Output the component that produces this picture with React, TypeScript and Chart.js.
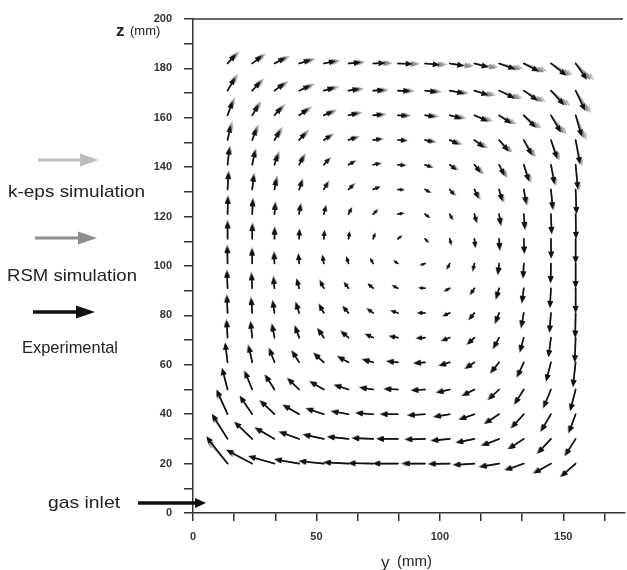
import React, { useEffect, useRef } from "react";
import { Chart, registerables } from "chart.js";
Chart.register(...registerables);

// grid positions (mm)
const X_COLS = [14, 24, 33, 43, 53, 63, 73, 83, 94, 104, 114, 124, 134, 145, 155];
const Z_ROWS = [182, 171, 161, 151, 141, 131, 121, 111, 101, 91, 81, 71, 61, 50, 40, 30, 20];

const X_TICKS = [0, 16.667, 33.333, 50, 66.667, 83.333, 100, 116.667, 133.333, 150, 166.667];
const X_LABELS = [0, 50, 100, 150];
const Y_LABEL_STEP = 20;

// Experimental vectors: direction (deg) and length (mm)
const EXP_ANG = [
  [48, 38, 28, 18, 12, 6, 2, -2, -6, -10, -15, -20, -28, -38, -55],
  [60, 48, 36, 25, 16, 9, 3, -2, -6, -11, -18, -26, -36, -48, -65],
  [70, 60, 48, 36, 24, 14, 6, -2, -8, -15, -24, -34, -46, -60, -74],
  [78, 70, 60, 48, 34, 20, 8, -4, -14, -25, -38, -50, -62, -72, -80],
  [84, 79, 72, 62, 48, 30, 12, -6, -22, -38, -52, -64, -73, -80, -85],
  [87, 84, 80, 72, 60, 44, 22, -5, -32, -52, -66, -75, -81, -85, -88],
  [89, 88, 86, 82, 76, 64, 45, 10, -40, -64, -76, -82, -86, -88, -89],
  [90, 90, 89, 88, 86, 82, 72, 40, -50, -76, -84, -87, -88, -89, -90],
  [91, 91, 92, 95, 100, 108, 120, 145, 200, 245, 258, 264, 267, 269, 270],
  [92, 93, 96, 106, 118, 128, 140, 155, 178, 210, 238, 254, 263, 267, 270],
  [92, 94, 98, 108, 120, 132, 146, 162, 180, 205, 232, 250, 260, 266, 269],
  [93, 96, 100, 110, 124, 140, 156, 170, 184, 202, 224, 242, 255, 263, 268],
  [97, 102, 110, 122, 138, 152, 165, 175, 185, 198, 215, 232, 246, 256, 264],
  [104, 112, 122, 136, 150, 162, 172, 178, 184, 194, 208, 224, 238, 248, 256],
  [114, 124, 136, 150, 162, 170, 176, 180, 184, 190, 200, 214, 228, 240, 250],
  [122, 136, 150, 160, 168, 174, 178, 180, 182, 186, 192, 202, 214, 228, 238],
  [128, 152, 164, 170, 174, 177, 179, 180, 180, 181, 184, 190, 200, 210, 222],
];
const EXP_LEN = [
  [5, 5, 5, 5, 5, 5, 5, 6, 6, 6, 6, 7, 7, 8, 8],
  [6, 5, 5, 5, 4.5, 4.5, 4.5, 5, 5, 6, 6, 7, 7, 8, 9],
  [6, 5, 4.5, 4.5, 4, 4, 4, 4, 4, 5, 6, 6, 7, 8, 9],
  [6, 5, 4.5, 4, 3.5, 3.5, 3.5, 3.5, 3.5, 4, 5, 6, 7, 8, 10],
  [7, 6, 4.5, 4, 3.5, 3, 3, 3, 3, 3.5, 4, 5, 7, 8, 10],
  [7, 6, 4.5, 4, 3.5, 3, 3, 2.5, 2.5, 3, 4, 5, 6, 8, 10],
  [7, 6, 4.5, 4, 3.5, 3, 2.5, 2.5, 2.5, 2.5, 3.5, 4.5, 6, 8, 10],
  [7, 6, 4.5, 4, 3.5, 3, 2.5, 2, 2, 2.5, 3.5, 4.5, 6, 8, 10],
  [7, 6, 4.5, 4, 3.5, 3, 2.5, 2, 2, 2.5, 3, 4.5, 6, 8, 10],
  [7, 6, 4.5, 4, 3.5, 3, 3, 2.5, 2.5, 2.5, 3, 4.5, 6, 8, 10],
  [7, 6, 5, 4.5, 4, 3.5, 3, 3, 3, 3, 3.5, 4.5, 6, 8, 10],
  [7, 6.5, 5.5, 5, 4.5, 4, 3.5, 3.5, 3.5, 3.5, 4, 5, 6, 8, 10],
  [8, 7, 6, 5.5, 5.5, 5, 4.5, 4.5, 4.5, 4.5, 4.5, 5.5, 6.5, 8, 10],
  [9, 8, 7, 6.5, 6.5, 6, 5.5, 5.5, 5.5, 5.5, 5.5, 6, 7, 8, 9],
  [11, 9, 8, 7.5, 7.5, 7, 7, 7, 7, 6.5, 6.5, 7, 7.5, 8, 8],
  [12, 10, 9, 8.5, 8.5, 8.5, 8.5, 8.5, 8, 7.5, 7.5, 7.5, 7.5, 8, 8],
  [14, 12, 11, 10, 10, 10, 10, 10, 9, 8.5, 8.5, 8, 8, 8, 8],
];

// k-eps simulation vectors
const KEPS_ANG = [
  [45, 36, 26, 16, 10, 5, 1, -1, -3, -6, -9, -12, -18, -28, -42],
  [58, 46, 34, 23, 14, 7, 2, -1, -4, -8, -12, -18, -26, -38, -55],
  [68, 58, 46, 34, 22, 12, 4, -1, -5, -10, -17, -26, -36, -50, -66],
  [76, 68, 58, 46, 32, 18, 6, -2, -10, -18, -30, -42, -54, -66, -76],
  [82, 77, 70, 60, 46, 28, 10, -4, -16, -30, -44, -56, -67, -76, -83],
  [86, 83, 78, 70, 58, 42, 20, -3, -26, -44, -58, -69, -77, -83, -87],
  [88, 87, 85, 80, 74, 62, 42, 8, -34, -58, -71, -79, -84, -87, -89],
  [90, 89, 88, 87, 85, 80, 70, 36, -46, -72, -82, -86, -88, -89, -90],
  [91, 91, 92, 94, 98, 106, 118, 140, 196, 240, 256, 263, 267, 269, 270],
  [92, 93, 95, 104, 115, 125, 137, 152, 175, 206, 234, 252, 262, 267, 270],
  [93, 95, 99, 108, 118, 130, 144, 160, 178, 202, 228, 248, 259, 265, 269],
  [94, 97, 102, 111, 124, 138, 154, 168, 182, 200, 221, 240, 253, 262, 268],
  [98, 104, 112, 123, 137, 150, 163, 173, 183, 196, 212, 229, 244, 255, 263],
  [106, 114, 124, 137, 150, 161, 170, 177, 182, 191, 205, 221, 236, 247, 255],
  [116, 126, 138, 151, 162, 170, 175, 179, 182, 188, 197, 211, 226, 238, 248],
  [124, 138, 151, 161, 168, 174, 177, 179, 181, 184, 190, 199, 211, 225, 236],
  [132, 154, 165, 171, 175, 177, 179, 180, 180, 181, 183, 188, 197, 207, 220],
];
const KEPS_LEN = [
  [7, 7, 7, 7, 7, 7, 8, 9, 9, 10, 10, 10, 10, 10, 10],
  [8, 7, 7, 7, 6.5, 6.5, 6.5, 7, 7, 8, 9, 10, 10, 10, 11],
  [8, 7, 6.5, 6.5, 6, 6, 5.5, 5.5, 6, 7, 8, 8, 9, 10, 11],
  [8, 7, 6.5, 6, 5, 5, 4.5, 4.5, 5, 5.5, 6.5, 7.5, 8.5, 9, 11],
  [8, 7, 6, 5.5, 4.5, 4, 4, 4, 4, 4.5, 5.5, 6.5, 8, 9, 11],
  [8, 7, 6, 5, 4.5, 4, 3.5, 3, 3, 4, 5, 6, 7, 9, 10],
  [8, 7, 5.5, 5, 4, 3.5, 3, 3, 3, 3, 4, 5, 7, 8.5, 10],
  [8, 7, 5.5, 4.5, 4, 3.5, 3, 2.5, 2.5, 3, 4, 5, 6.5, 8, 10],
  [8, 7, 5.5, 4.5, 4, 3.5, 3, 2.5, 2.5, 3, 3.5, 5, 6.5, 8, 10],
  [8, 7, 5.5, 4.5, 4, 3.5, 3, 3, 3, 3, 3.5, 5, 6.5, 8, 10],
  [8, 7, 5.5, 5, 4.5, 4, 3.5, 3.5, 3.5, 3.5, 4, 5, 6.5, 8, 10],
  [8, 7, 6, 5.5, 5, 4.5, 4, 4, 4, 4, 4.5, 5.5, 6.5, 8, 10],
  [8, 7.5, 6.5, 6, 6, 5.5, 5, 5, 5, 5, 5, 6, 7, 8, 10],
  [9, 8.5, 7.5, 7, 7, 6.5, 6, 6, 6, 6, 6, 6.5, 7.5, 8.5, 9],
  [10, 9, 8.5, 8, 8, 7.5, 7.5, 7.5, 7.5, 7, 7, 7.5, 8, 8.5, 8.5],
  [11, 10, 9.5, 9, 9, 9, 9, 9, 8.5, 8, 8, 8, 8, 8.5, 8.5],
  [12, 11, 11, 10.5, 10.5, 10.5, 10.5, 10.5, 10, 9, 9, 8.5, 8.5, 8.5, 8.5],
];

// RSM simulation vectors
const RSM_ANG = [
  [47, 37, 27, 17, 11, 5, 1, -2, -5, -8, -12, -16, -23, -33, -48],
  [59, 47, 35, 24, 15, 8, 2, -2, -5, -9, -15, -22, -31, -43, -60],
  [69, 59, 47, 35, 23, 13, 5, -2, -6, -12, -20, -30, -41, -55, -70],
  [77, 69, 59, 47, 33, 19, 7, -3, -12, -22, -34, -46, -58, -69, -78],
  [83, 78, 71, 61, 47, 29, 11, -5, -19, -34, -48, -60, -70, -78, -84],
  [86, 84, 79, 71, 59, 43, 21, -4, -29, -48, -62, -72, -79, -84, -88],
  [89, 88, 85, 81, 75, 63, 44, 9, -37, -61, -74, -80, -85, -88, -89],
  [90, 89, 89, 88, 85, 81, 71, 38, -48, -74, -83, -86, -88, -89, -90],
  [91, 91, 92, 95, 99, 107, 119, 142, 198, 242, 257, 263, 267, 269, 270],
  [92, 93, 95, 105, 116, 126, 138, 153, 176, 208, 236, 253, 262, 267, 270],
  [92, 95, 98, 108, 119, 131, 145, 161, 179, 204, 230, 249, 259, 265, 269],
  [93, 96, 101, 110, 124, 139, 155, 169, 183, 201, 222, 241, 254, 262, 268],
  [97, 103, 111, 122, 137, 151, 164, 174, 184, 197, 213, 230, 245, 255, 263],
  [105, 113, 123, 136, 150, 161, 171, 177, 183, 192, 206, 222, 237, 247, 255],
  [115, 125, 137, 150, 162, 170, 175, 179, 183, 189, 198, 212, 227, 239, 249],
  [123, 137, 150, 160, 168, 174, 177, 179, 181, 185, 191, 200, 212, 226, 237],
  [130, 153, 164, 170, 174, 177, 179, 180, 180, 181, 183, 189, 198, 208, 221],
];
const RSM_LEN = [
  [6, 6, 6, 6, 6, 6, 7, 8, 8, 9, 9, 9, 9, 9, 9],
  [7, 6, 6, 6, 5.5, 5.5, 5.5, 6, 6, 7, 8, 9, 9, 9, 10],
  [7, 6, 5.5, 5.5, 5, 5, 5, 5, 5, 6, 7, 7, 8, 9, 10],
  [7, 6, 5.5, 5, 4.5, 4.5, 4, 4, 4.5, 5, 6, 7, 8, 8.5, 10],
  [7.5, 6.5, 5.5, 5, 4, 3.5, 3.5, 3.5, 3.5, 4, 5, 6, 7.5, 8.5, 10],
  [7.5, 6.5, 5.5, 4.5, 4, 3.5, 3, 3, 3, 3.5, 4.5, 5.5, 6.5, 8.5, 10],
  [7.5, 6.5, 5, 4.5, 4, 3, 3, 2.5, 2.5, 3, 4, 5, 6.5, 8, 10],
  [7.5, 6.5, 5, 4, 3.5, 3, 2.5, 2.5, 2.5, 3, 4, 5, 6, 8, 10],
  [7.5, 6.5, 5, 4, 3.5, 3, 2.5, 2.5, 2.5, 3, 3.5, 5, 6, 8, 10],
  [7.5, 6.5, 5, 4, 4, 3.5, 3, 3, 3, 3, 3.5, 5, 6, 8, 10],
  [7.5, 6.5, 5.5, 5, 4.5, 4, 3.5, 3.5, 3.5, 3.5, 4, 5, 6.5, 8, 10],
  [7.5, 7, 6, 5.5, 5, 4.5, 4, 4, 4, 4, 4.5, 5.5, 6.5, 8, 10],
  [8, 7.5, 6.5, 6, 6, 5.5, 5, 5, 5, 5, 5, 6, 7, 8, 10],
  [9, 8.5, 7.5, 7, 7, 6.5, 6, 6, 6, 6, 6, 6.5, 7.5, 8.5, 9],
  [10.5, 9, 8.5, 8, 8, 7.5, 7.5, 7.5, 7.5, 7, 7, 7.5, 8, 8.5, 8.5],
  [11.5, 10, 9.5, 9, 9, 9, 9, 9, 8.5, 8, 8, 8, 8, 8.5, 8.5],
  [13, 11.5, 11, 10.5, 10.5, 10.5, 10.5, 10.5, 10, 9, 9, 8.5, 8.5, 8.5, 8.5],
];

const SERIES = [
  { label: "k-eps simulation", color: "#bdbdbd", ang: KEPS_ANG, len: KEPS_LEN, width: 1.5 },
  { label: "RSM simulation", color: "#8e8e8e", ang: RSM_ANG, len: RSM_LEN, width: 1.4 },
  { label: "Experimental", color: "#111111", ang: EXP_ANG, len: EXP_LEN, width: 1.6 },
];

function buildPoints(ang: number[][], len: number[][]) {
  const pts: any[] = [];
  Z_ROWS.forEach((z, r) =>
    X_COLS.forEach((x, c) => pts.push({ x, y: z, a: ang[r][c], l: len[r][c] }))
  );
  return pts;
}

function arrow(ctx: CanvasRenderingContext2D, x0: number, y0: number, x1: number, y1: number, headLen: number, headHalf: number, lw: number) {
  const dx = x1 - x0, dy = y1 - y0;
  const L = Math.hypot(dx, dy);
  if (L < 0.1) return;
  const ux = dx / L, uy = dy / L;
  const hl = Math.min(headLen, L * 0.65);
  const hw = headHalf * (hl / headLen);
  const bx = x1 - ux * hl, by = y1 - uy * hl;
  ctx.lineWidth = lw;
  ctx.beginPath();
  ctx.moveTo(x0, y0);
  ctx.lineTo(bx + ux * 0.5, by + uy * 0.5);
  ctx.stroke();
  ctx.beginPath();
  ctx.moveTo(x1, y1);
  ctx.lineTo(bx - uy * hw, by + ux * hw);
  ctx.lineTo(bx + uy * hw, by - ux * hw);
  ctx.closePath();
  ctx.fill();
}

const quiverPlugin = {
  id: "quiver",
  afterDatasetsDraw(chart: any) {
    const ctx = chart.ctx as CanvasRenderingContext2D;
    const xs = chart.scales.x, ys = chart.scales.y;
    chart.data.datasets.forEach((ds: any) => {
      ctx.save();
      ctx.strokeStyle = ds.borderColor;
      ctx.fillStyle = ds.borderColor;
      ctx.lineCap = "round";
      ds.data.forEach((p: any) => {
        const rad = (p.a * Math.PI) / 180;
        const x0 = xs.getPixelForValue(p.x);
        const y0 = ys.getPixelForValue(p.y);
        const x1 = xs.getPixelForValue(p.x + p.l * Math.cos(rad));
        const y1 = ys.getPixelForValue(p.y + p.l * Math.sin(rad));
        arrow(ctx, x0, y0, x1, y1, 7, 3, ds.arrowWidth);
      });
      ctx.restore();
    });
  },
};

const FONT = "'Liberation Sans', Arial, sans-serif";

const overlayPlugin = {
  id: "overlay",
  afterDraw(chart: any) {
    const ctx = chart.ctx as CanvasRenderingContext2D;
    const a = chart.chartArea;
    ctx.save();
    // top frame line
    ctx.strokeStyle = "#333";
    ctx.lineWidth = 1.5;
    ctx.beginPath();
    ctx.moveTo(a.left, a.top);
    ctx.lineTo(a.right - 2, a.top);
    ctx.stroke();

    // legend arrows
    const legendArrows = [
      { y: 160, x0: 38, x1: 99, color: SERIES[0].color, lw: 3 },
      { y: 238, x0: 35, x1: 97, color: SERIES[1].color, lw: 3 },
      { y: 312, x0: 33, x1: 95, color: SERIES[2].color, lw: 3.5 },
    ];
    legendArrows.forEach((la) => {
      ctx.strokeStyle = la.color;
      ctx.fillStyle = la.color;
      ctx.lineCap = "butt";
      arrow(ctx, la.x0, la.y, la.x1, la.y, 19, 6.5, la.lw);
    });

    // legend texts
    ctx.fillStyle = "#222";
    ctx.textBaseline = "middle";
    ctx.textAlign = "left";
    ctx.font = `17px ${FONT}`;
    const texts = [
      { t: SERIES[0].label, x: 8, y: 192, w: 137 },
      { t: SERIES[1].label, x: 7, y: 276, w: 130 },
      { t: SERIES[2].label, x: 22, y: 348, w: 96 },
      { t: "gas inlet", x: 48, y: 503, w: 72 },
    ];
    texts.forEach((tx) => {
      const m = ctx.measureText(tx.t).width;
      ctx.save();
      ctx.translate(tx.x, tx.y);
      ctx.scale(tx.w / m, 1);
      ctx.fillText(tx.t, 0, 0);
      ctx.restore();
    });

    // gas inlet arrow
    ctx.strokeStyle = "#111";
    ctx.fillStyle = "#111";
    arrow(ctx, 138, 503, 206, 503, 11, 5, 3.5);

    // axis titles
    ctx.fillStyle = "#222";
    ctx.textBaseline = "alphabetic";
    ctx.font = `bold 17px ${FONT}`;
    ctx.fillText("z", 116, 36);
    ctx.font = `13px ${FONT}`;
    ctx.fillText("(mm)", 130, 35);
    ctx.font = `17px ${FONT}`;
    ctx.fillText("y", 381, 568);
    ctx.font = `15px ${FONT}`;
    ctx.fillText("(mm)", 397, 566);
    ctx.restore();
  },
};

export default function App() {
  const ref = useRef<HTMLCanvasElement | null>(null);
  useEffect(() => {
    if (!ref.current) return;
    Chart.defaults.font.family = FONT;
    const chart = new Chart(ref.current, {
      type: "scatter",
      data: {
        datasets: SERIES.map((s) => ({
          label: s.label,
          data: buildPoints(s.ang, s.len),
          borderColor: s.color,
          backgroundColor: s.color,
          pointRadius: 0,
          arrowWidth: s.width,
        })) as any,
      },
      options: {
        animation: false,
        responsive: false,
        layout: { padding: { top: 19, right: 2, bottom: 0, left: 0 } },
        plugins: { legend: { display: false }, tooltip: { enabled: false } },
        scales: {
          x: {
            type: "linear",
            min: 0,
            max: 175,
            afterBuildTicks: (s: any) => {
              s.ticks = X_TICKS.map((v) => ({ value: v }));
            },
            afterFit: (s: any) => {
              s.height = 57;
            },
            ticks: {
              autoSkip: false,
              maxRotation: 0,
              color: "#333",
              font: { size: 11, weight: "bold" },
              padding: 9,
              callback: (v: any) => {
                const hit = X_LABELS.find((l) => Math.abs(l - Number(v)) < 0.01);
                return hit === undefined ? "" : String(hit);
              },
            },
            grid: { drawOnChartArea: false, drawTicks: true, tickLength: 8, color: "#333", lineWidth: 1.5 },
            border: { display: true, color: "#333", width: 1.5 },
          },
          y: {
            type: "linear",
            min: 0,
            max: 200,
            afterFit: (s: any) => {
              s.width = 193;
            },
            ticks: {
              stepSize: 10,
              color: "#333",
              font: { size: 11, weight: "bold" },
              padding: 12,
              callback: (v: any) => (Number(v) % Y_LABEL_STEP === 0 ? String(v) : ""),
            },
            grid: { drawOnChartArea: false, drawTicks: true, tickLength: 9, color: "#333", lineWidth: 1.5 },
            border: { display: true, color: "#333", width: 1.5 },
          },
        },
      } as any,
      plugins: [quiverPlugin, overlayPlugin],
    });
    return () => chart.destroy();
  }, []);
  return (
    <div style={{ position: "absolute", left: 0, top: 0, width: 627, height: 570, background: "#fff" }}>
      <canvas ref={ref} width={627} height={570} style={{ width: 627, height: 570 }} />
    </div>
  );
}
